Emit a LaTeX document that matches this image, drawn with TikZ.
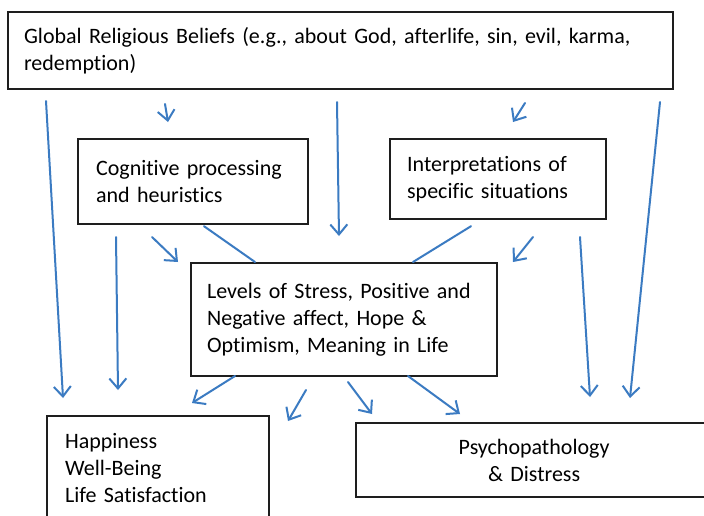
\documentclass[tikz,border=0pt]{standalone}
\usepackage{fontspec}
\setmainfont{Carlito}[Ligatures=NoCommon]
\usetikzlibrary{arrows.meta,calc}
\definecolor{flow}{RGB}{59,123,194}
\definecolor{edge}{RGB}{30,30,30}
\tikzset{
  box/.style={draw=edge, line width=2.2pt, rectangle, anchor=north west,
    align=left, inner ysep=0pt, font=\fontsize{22}{27}\selectfont},
  arr/.style={draw=flow, line width=2pt, line cap=round, line join=round,
    -{Straight Barb[length=10pt,width=17pt,line width=2pt]}},
  link/.style={draw=flow, line width=2pt, line cap=round}
}
\begin{document}
\begin{tikzpicture}[x=1pt,y=-1pt]
\clip (0,0) rectangle (704,515);
\fill[white] (0,0) rectangle (704,515);

% boxes
\node[box, minimum width=665pt, minimum height=77pt, inner xsep=16pt, text width=633pt]
  (beliefs) at (7,11) {Global Religious Beliefs (e.g., about God, afterlife, sin, evil, karma,\\redemption)};
\node[box, minimum width=230pt, minimum height=85pt, inner xsep=18pt, text width=194pt]
  (cog) at (77,138) {Cognitive processing\\and heuristics};
\node[box, minimum width=216pt, minimum height=80pt, inner xsep=17pt, text width=182pt]
  (interp) at (389,138) {Interpretations of\\specific situations};
\node[box, minimum width=306pt, minimum height=113pt, inner xsep=16pt, text width=274pt]
  (levels) at (190,262) {Levels of Stress, Positive and\\Negative affect, Hope \&\\Optimism, Meaning in Life};
\node[box, minimum width=222pt, minimum height=103pt, inner xsep=18pt, text width=186pt]
  (happy) at (46,415) {Happiness\\Well-Being\\Life Satisfaction};
\node[box, align=center, minimum width=356pt, minimum height=74pt, inner xsep=16pt, text width=324pt]
  (psych) at (355,422) {Psychopathology\\\& Distress};

% arrow end points
\coordinate (s1) at (46,101);  \coordinate (e1) at (63,398);
\coordinate (s2) at (165,104); \coordinate (e2) at (168,122);
\coordinate (s3) at (337,102); \coordinate (e3) at (339,236);
\coordinate (s4) at (525,103); \coordinate (e4) at (513,122);
\coordinate (s5) at (660,102); \coordinate (e5) at (630,398);
\coordinate (s6) at (116,237); \coordinate (e6) at (118,390);
\coordinate (s7) at (152,237); \coordinate (e7) at (178,262);
\coordinate (s8) at (533,237); \coordinate (e8) at (513,262);
\coordinate (s9) at (580,237); \coordinate (e9) at (590,397);
\coordinate (s10) at (235,376); \coordinate (e10) at (192,403);
\coordinate (s11) at (306,390); \coordinate (e11) at (288,421);
\coordinate (s12) at (348,382); \coordinate (e12) at (372,414);
\coordinate (s13) at (408,376); \coordinate (e13) at (460,414);

\foreach \i in {1,...,13} { \draw[arr] (s\i) -- (e\i); }

% plain links into the central box
\draw[link] ($(cog.south west)+(127,1)$) -- ($(levels.north west)+(65,0)$);
\draw[link] ($(interp.south west)+(82,6)$) -- ($(levels.north west)+(223,0)$);
\end{tikzpicture}
\end{document}
